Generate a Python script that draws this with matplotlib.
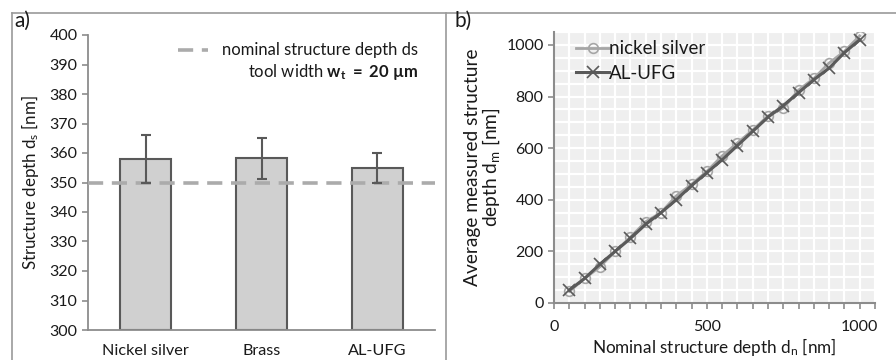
import matplotlib
matplotlib.use("Agg")
import matplotlib.pyplot as plt
from matplotlib.lines import Line2D
from matplotlib.ticker import MultipleLocator, FixedLocator

plt.rcParams['font.family'] = ['Lato', 'DejaVu Sans']
plt.rcParams['mathtext.fontset'] = 'custom'
plt.rcParams['mathtext.rm'] = 'Lato'
plt.rcParams['mathtext.it'] = 'Lato:italic'
plt.rcParams['mathtext.bf'] = 'Lato:bold'

# ---- data panel a ----
materials = ["Nickel silver", "Brass", "AL-UFG"]
depth_mean = [358.1, 358.2, 355.0]
depth_err = [8.1, 7.0, 5.1]
nominal_depth = 350

# ---- data panel b ----
nominal = [50, 100, 150, 200, 250, 300, 350, 400, 450, 500,
           550, 600, 650, 700, 750, 800, 850, 900, 950, 1000]
nickel_silver = [45, 95, 140, 200, 255, 315, 350, 415, 460, 510,
                 570, 620, 670, 725, 755, 825, 870, 930, 975, 1035]
al_ufg = [50, 95, 150, 200, 250, 305, 350, 400, 455, 505,
          555, 610, 665, 720, 765, 815, 865, 910, 970, 1020]

W, H = 896, 360
fig = plt.figure(figsize=(W / 100, H / 100), dpi=100)

def fx(px):
    return px / W

def fy(py):
    return 1 - py / H

# frame lines
frame_col = '#9a9a9a'
fig.add_artist(Line2D([fx(12), 1.0], [fy(13), fy(13)], color=frame_col, lw=1.2, transform=fig.transFigure))
fig.add_artist(Line2D([fx(12), fx(12)], [fy(13), 0], color=frame_col, lw=1.2, transform=fig.transFigure))
fig.add_artist(Line2D([fx(446), fx(446)], [fy(13), 0], color=frame_col, lw=1.2, transform=fig.transFigure))

txt_col = '#1a1a1a'
spine_col = '#8c8c8c'

# ---------------- panel a ----------------
axa = fig.add_axes([fx(88), fy(330), fx(435) - fx(88), fy(35) - fy(330)])
xpos = list(range(len(materials)))
axa.bar(xpos, [m - 300 for m in depth_mean], bottom=300, width=0.44,
        color='#d0d0d0', edgecolor='#595959', linewidth=1.5, zorder=2)
axa.errorbar(xpos, depth_mean, yerr=depth_err, fmt='none', ecolor='#595959',
             elinewidth=1.5, capsize=3.5, capthick=1.5, zorder=4)
axa.axhline(nominal_depth, color='#ababab', lw=2.6, dashes=(4.2, 2.4), zorder=3)
axa.set_ylim(300, 400)
axa.set_xlim(-0.5, 2.5)
axa.yaxis.set_major_locator(MultipleLocator(10))
axa.set_xticks(xpos)
axa.set_xticklabels(materials, fontsize=11.7, color=txt_col)
axa.tick_params(axis='x', length=0, pad=10)
axa.tick_params(axis='y', labelsize=11.5, colors=spine_col, labelcolor=txt_col, length=4, width=1.2)
for s in ['top', 'right']:
    axa.spines[s].set_visible(False)
for s in ['left', 'bottom']:
    axa.spines[s].set_color(spine_col)
    axa.spines[s].set_linewidth(1.3)
axa.set_ylabel(r"Structure depth d$_\mathrm{s}$ [nm]", fontsize=12.2, color=txt_col, labelpad=6)

# legend for panel a
axa.add_line(Line2D([0.259, 0.346], [0.949, 0.949], transform=axa.transAxes,
                    color='#ababab', lw=2.6, dashes=(4.2, 2.4)))
axa.text(0.386, 0.949, "nominal structure depth ds", transform=axa.transAxes,
         fontsize=12, color=txt_col, va='center', ha='left')
axa.text(0.951, 0.875, r"tool width $\mathbf{w_t\ =\ 20\ µm}$", transform=axa.transAxes,
         fontsize=12, color=txt_col, va='center', ha='right')

fig.text(fx(14), fy(21), "a)", fontsize=15, color=txt_col, va='center', ha='left')

# ---------------- panel b ----------------
axb = fig.add_axes([fx(554), fy(303), fx(875) - fx(554), fy(32) - fy(303)])
axb.set_facecolor('#efefef')
axb.plot(nominal, nickel_silver, color='#a6a6a6', lw=2.0, marker='o', ms=7,
         mfc='none', mec='#a6a6a6', mew=1.2, label='nickel silver', zorder=3)
axb.plot(nominal, al_ufg, color='#5a5a5a', lw=2.2, marker='x', ms=8.5,
         mec='#5a5a5a', mew=1.2, label='AL-UFG', zorder=4)
axb.set_xlim(0, 1050)
axb.set_ylim(0, 1050)
axb.xaxis.set_major_locator(FixedLocator([0, 500, 1000]))
axb.xaxis.set_minor_locator(MultipleLocator(50))
axb.yaxis.set_major_locator(MultipleLocator(200))
axb.yaxis.set_minor_locator(MultipleLocator(50))
axb.grid(True, which='both', color='white', lw=1.6, zorder=0)
axb.set_axisbelow(True)
axb.tick_params(axis='x', which='both', length=4, width=1.2, colors=spine_col,
                labelcolor=txt_col, labelsize=11.5, pad=8)
axb.tick_params(axis='y', which='major', length=4, width=1.2, colors=spine_col,
                labelcolor=txt_col, labelsize=11.5)
axb.tick_params(axis='y', which='minor', length=0)
for s in ['top', 'right']:
    axb.spines[s].set_visible(False)
for s in ['left', 'bottom']:
    axb.spines[s].set_color(spine_col)
    axb.spines[s].set_linewidth(1.5)
axb.set_ylabel("Average measured structure\n" + r"depth d$_\mathrm{m}$ [nm]",
               fontsize=13.8, color=txt_col, labelpad=3, linespacing=0.95)
axb.set_xlabel(r"Nominal structure depth d$_\mathrm{n}$ [nm]", fontsize=12.3,
               color=txt_col, labelpad=2)
leg = axb.legend(loc='upper left', frameon=False, fontsize=13.5, handlelength=1.75,
                 handletextpad=0.0, borderaxespad=0.0, borderpad=0.0,
                 labelspacing=0.42, bbox_to_anchor=(0.069, 0.97))
for t in leg.get_texts():
    t.set_color(txt_col)

fig.text(fx(454), fy(21), "b)", fontsize=15, color=txt_col, va='center', ha='left')

fig.savefig("out.png", dpi=100)
